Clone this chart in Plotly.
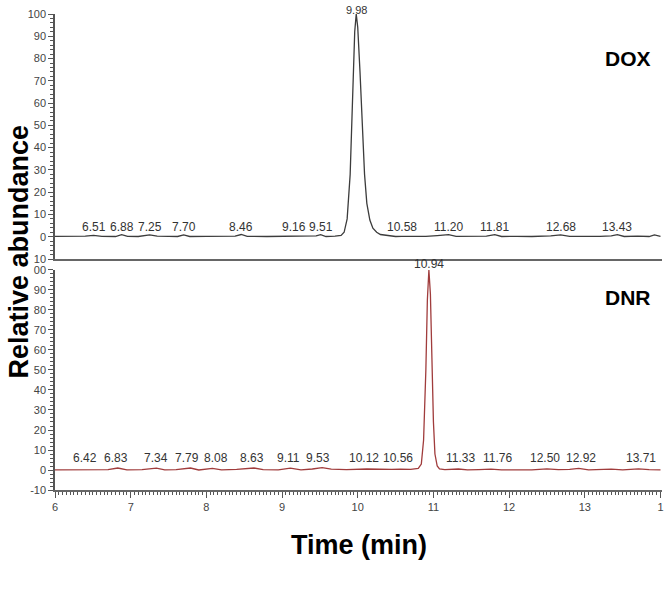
import plotly.graph_objects as go

# DOX trace (top panel)
dox_time = [6.0, 6.2, 6.4, 6.51, 6.62, 6.8, 6.88, 6.96, 7.1, 7.25, 7.35, 7.5, 7.62, 7.7, 7.78,
            8.0, 8.2, 8.38, 8.46, 8.54, 8.8, 9.0, 9.16, 9.3, 9.45, 9.51, 9.58, 9.7, 9.78, 9.82,
            9.86, 9.9, 9.93, 9.96, 9.98, 10.0, 10.03, 10.06, 10.09, 10.12, 10.16, 10.2, 10.25, 10.3,
            10.4, 10.5, 10.58, 10.7, 10.9, 11.05, 11.2, 11.3, 11.5, 11.7, 11.81, 11.9, 12.1, 12.3,
            12.55, 12.68, 12.8, 13.0, 13.2, 13.35, 13.43, 13.52, 13.7, 13.85, 13.92, 14.0]
dox_abund = [0.2, 0.1, 0.3, 0.6, 0.2, 0.1, 0.9, 0.2, 0.1, 0.8, 0.3, 0.2, 0.1, 0.8, 0.1,
             0.2, 0.1, 0.3, 1.0, 0.2, 0.1, 0.2, 0.3, 0.1, 0.4, 0.9, 0.1, 0.3, 0.6, 2,
             8, 28, 60, 92, 100, 94, 74, 48, 28, 15, 7.5, 3.8, 2, 1.0,
             0.4, 0.1, 0.2, 0.1, 0.2, 0.5, 0.9, 0.2, 0.1, 0.3, 0.9, 0.1, 0.2, 0.1,
             0.4, 0.8, 0.2, 0.1, 0.2, 0.4, 0.9, 0.1, 0.3, 0.1, 0.8, 0.2]
dox_labels = [6.51, 6.88, 7.25, 7.70, 8.46, 9.16, 9.51, 10.58, 11.20, 11.81, 12.68, 13.43]

# DNR trace (bottom panel)
dnr_time = [6.0, 6.2, 6.42, 6.55, 6.7, 6.83, 6.95, 7.15, 7.34, 7.45, 7.6, 7.79, 7.9, 8.08,
            8.2, 8.4, 8.63, 8.75, 8.95, 9.11, 9.25, 9.4, 9.53, 9.65, 9.85, 10.12, 10.3, 10.45,
            10.56, 10.7, 10.8, 10.84, 10.87, 10.9, 10.92, 10.94, 10.96, 10.98, 11.0, 11.02, 11.05,
            11.08, 11.15, 11.33, 11.45, 11.6, 11.76, 11.9, 12.1, 12.3, 12.5, 12.65, 12.8, 12.92,
            13.05, 13.2, 13.35, 13.5, 13.71, 13.85, 14.0]
dnr_abund = [0.1, 0.2, 0.3, 0.1, 0.2, 1.0, 0.1, 0.2, 0.9, 0.1, 0.2, 1.0, 0.0, 0.8,
             0.1, 0.3, 1.0, 0.2, 0.1, 0.9, 0.1, 0.5, 1.2, 0.4, 0.2, 0.5, 0.2, 0.3,
             0.4, 0.3, 0.8, 3, 15, 50, 85, 100, 88, 55, 24, 8, 2,
             0.5, 0.2, 0.5, 0.1, 0.2, 0.4, 0.1, 0.2, 0.1, 0.6, 0.2, 0.3, 0.8,
             0.1, 0.2, 0.4, 0.1, 0.6, 0.2, 0.1]
dnr_labels = [6.42, 6.83, 7.34, 7.79, 8.08, 8.63, 9.11, 9.53, 10.12, 10.56, 11.33, 11.76,
              12.50, 12.92, 13.71]
# where the software placed each label (a few are nudged apart)
dnr_label_pos = [6.40, 6.81, 7.34, 7.74, 8.13, 8.60, 9.09, 9.48, 10.08, 10.53, 11.36, 11.85,
                 12.47, 12.95, 13.74]

y_ticks = [-10, 0, 10, 20, 30, 40, 50, 60, 70, 80, 90, 100]
top_tick_text = ["10", "0", "10", "20", "30", "40", "50", "60", "70", "80", "90", "100"]
bot_tick_text = ["-10", "0", "10", "20", "30", "40", "50", "60", "70", "80", "90", "00"]
x_ticks = [6, 7, 8, 9, 10, 11, 12, 13, 14]
x_tick_text = ["6", "7", "8", "9", "10", "11", "12", "13", "1"]

fig = go.Figure()
fig.add_trace(go.Scatter(x=dox_time, y=dox_abund, mode="lines", xaxis="x", yaxis="y",
                         line=dict(color="#3c3c3c", width=1.3), showlegend=False))
fig.add_trace(go.Scatter(x=dnr_time, y=dnr_abund, mode="lines", xaxis="x2", yaxis="y2",
                         line=dict(color="#a03c3c", width=1.3), showlegend=False))

lab_font = dict(family="Arial, Liberation Sans", size=12, color="#333333")
for t in dox_labels:
    fig.add_annotation(x=t, y=0, xref="x", yref="y", text=f"{t:.2f}", showarrow=False,
                       yanchor="bottom", yshift=1, font=lab_font)
for t, p in zip(dnr_labels, dnr_label_pos):
    fig.add_annotation(x=p, y=0, xref="x2", yref="y2", text=f"{t:.2f}", showarrow=False,
                       yanchor="bottom", yshift=3, font=lab_font)
fig.add_annotation(x=9.98, y=100, xref="x", yref="y", text="9.98", showarrow=False,
                   yanchor="bottom", yshift=-4, font=dict(lab_font, size=11))
fig.add_annotation(x=10.94, y=100, xref="x2", yref="y2", text="10.94", showarrow=False,
                   yanchor="bottom", yshift=-3, font=lab_font)

big = dict(family="Arial, Liberation Sans", size=21, color="black")
fig.add_annotation(x=0.985, y=80, xref="paper", yref="y", text="<b>DOX</b>", showarrow=False,
                   xanchor="right", font=big)
fig.add_annotation(x=0.985, y=86, xref="paper", yref="y2", text="<b>DNR</b>", showarrow=False,
                   xanchor="right", font=big)
fig.add_annotation(x=-0.06, y=0.5, xref="paper", yref="paper", text="<b>Relative abundance</b>",
                   showarrow=False, textangle=-90, xanchor="center",
                   font=dict(family="Arial, Liberation Sans", size=27, color="black"))
fig.add_annotation(x=0.5, y=-0.08, xref="paper", yref="paper", text="<b>Time (min)</b>",
                   showarrow=False, yanchor="top",
                   font=dict(family="Arial, Liberation Sans", size=27, color="black"))

tick_font = dict(family="Arial, Liberation Sans", size=11, color="#444444")
yax = dict(range=[-10, 100], tickvals=y_ticks, showgrid=False, zeroline=False,
           showline=True, linecolor="#555555", linewidth=1.5, ticks="outside", ticklen=5,
           tickcolor="#555555", tickfont=tick_font, fixedrange=True,
           minor=dict(dtick=2, ticks="outside", ticklen=3, tickcolor="#555555"))
xax = dict(range=[6, 14.02], showgrid=False, zeroline=False, showline=True,
           linecolor="#666666", linewidth=1.5)

fig.update_layout(
    width=664, height=589,
    margin=dict(l=55, r=0, t=14, b=99),
    plot_bgcolor="white", paper_bgcolor="white",
    xaxis=dict(xax, domain=[0, 1], anchor="y", showticklabels=False, ticks=""),
    yaxis=dict(yax, domain=[0.4853, 1], anchor="x", ticktext=top_tick_text),
    xaxis2=dict(xax, domain=[0, 1], anchor="y2", tickvals=x_ticks, ticktext=x_tick_text,
                ticks="outside", ticklen=6, tickcolor="#555555", tickfont=tick_font,
                ticklabeloverflow="allow",
                minor=dict(dtick=0.05, ticks="outside", ticklen=3, tickcolor="#555555")),
    yaxis2=dict(yax, domain=[0, 0.4622], anchor="x2", ticktext=bot_tick_text),
)

fig.write_html("out.html", config={"displayModeBar": False},
               post_script="document.body.style.margin='0';")
